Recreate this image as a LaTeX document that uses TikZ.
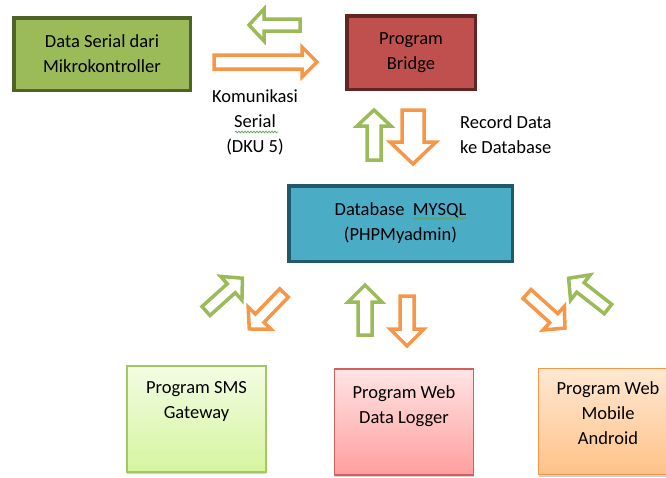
\documentclass[tikz,border=0pt]{standalone}
\usepackage{fontspec}
\setmainfont{Carlito}
\usetikzlibrary{shadows,decorations.pathmorphing}
\definecolor{cGreen}{HTML}{9BBB59}
\definecolor{cGreenD}{HTML}{4F6228}
\definecolor{cRed}{HTML}{C0504D}
\definecolor{cRedD}{HTML}{632523}
\definecolor{cBlue}{HTML}{4BACC6}
\definecolor{cBlueD}{HTML}{215968}
\definecolor{cOrange}{HTML}{F79646}
\definecolor{smsTop}{HTML}{F3FCE3}
\definecolor{smsBot}{HTML}{D5F59E}
\definecolor{smsLine}{HTML}{A5C665}
\definecolor{logTop}{HTML}{FFE4E4}
\definecolor{logBot}{HTML}{FF9E9E}
\definecolor{logLine}{HTML}{D0605E}
\definecolor{andTop}{HTML}{FFE8D2}
\definecolor{andBot}{HTML}{FFC288}
\definecolor{andLine}{HTML}{F79646}
\definecolor{spell}{HTML}{5EA35E}
\newcommand\blockarr[8]{%
  \draw[arrline, draw=#1, shift={(#2,#3)}, rotate=#4]
    (0,-#6) -- (#5-#8,-#6) -- (#5-#8,-#7) -- (#5,0) -- (#5-#8,#7) -- (#5-#8,#6) -- (0,#6) -- cycle;}
\begin{document}
\begin{tikzpicture}[x=1pt,y=-1pt,
  txt/.style={font=\fontsize{18.5}{25}\selectfont, text=black, align=center, inner sep=0pt},
  topbox/.style={txt, rectangle, line width=3.5pt, inner sep=0pt},
  lowbox/.style={rectangle, line width=1.3pt, inner sep=0pt, minimum width=139pt, minimum height=106pt,
    shading=axis, shading angle=0, drop shadow={shadow xshift=0pt, shadow yshift=-2pt, opacity=0.35, fill=gray}},
  arrline/.style={line width=3.5pt, fill=white, line join=miter},
  spellmark/.style={draw=spell, line width=0.7pt, decorate, decoration={snake, amplitude=0.9pt, segment length=3pt}}]
\useasboundingbox (0,0) rectangle (666,477);

% top boxes
\node[topbox, fill=cGreen, draw=cGreenD, minimum width=176.5pt, minimum height=72.5pt] (mcu) at (102,54) {Data Serial dari\\Mikrokontroller};
\node[topbox, fill=cRed, draw=cRedD, minimum width=128.5pt, minimum height=73.5pt] (bridge) at (411,52.5) {Program\\Bridge};
\node[topbox, fill=cBlue, draw=cBlueD, minimum width=223.5pt, minimum height=75.5pt] (db) at (400.5,223.5) {Database \ MYSQL\\(PHPMyadmin)};

% bottom boxes
\node[lowbox, draw=smsLine, top color=smsTop, bottom color=smsBot] (sms) at (196.5,419) {};
\node[lowbox, draw=logLine, top color=logTop, bottom color=logBot] (logger) at (404,422) {};
\node[lowbox, draw=andLine, top color=andTop, bottom color=andBot] (android) at (608,421.5) {};
\node[txt, anchor=north] (smsT) at ([yshift=-16pt]sms.north) {Program SMS\\Gateway};
\node[txt, anchor=north] (loggerT) at ([yshift=-17pt]logger.north) {Program Web\\Data Logger};
\node[txt, anchor=north] (androidT) at ([yshift=-14pt]android.north) {Program Web\\Mobile\\Android};

% labels
\node[txt] (kom) at (255,122.5) {Komunikasi\\Serial\\(DKU 5)};
\node[txt, anchor=west, align=left] (rec) at (460,134.5) {Record Data\\ke Database};

% spell-check underlines
\coordinate (s1a) at (235,132); \coordinate (s1b) at (278,132);
\draw[spellmark] (s1a) -- (s1b);
\coordinate (s2a) at (413,218.5); \coordinate (s2b) at (466,218.5);
\draw[spellmark] (s2a) -- (s2b);

% block arrows: colour, tail x, tail y, angle, length, shaft half, head half, head length
\blockarr{cGreen}{300}{25}{180}{51}{6}{16}{15}
\blockarr{cOrange}{214}{62}{0}{103}{7}{15}{15}
\blockarr{cGreen}{374}{160}{90}{50}{7}{17}{16}
\blockarr{cOrange}{413}{110}{270}{54}{11}{23}{22}
\blockarr{cGreen}{206}{311}{42}{49}{6}{16}{15}
\blockarr{cOrange}{284}{293}{226}{50}{6}{16}{15}
\blockarr{cGreen}{365}{335}{90}{50}{7}{17}{17}
\blockarr{cOrange}{407}{296}{270}{50}{7}{17}{17}
\blockarr{cOrange}{527}{294}{-42}{51}{6}{16}{15}
\blockarr{cGreen}{608}{309}{142}{50}{6}{16}{15}
\end{tikzpicture}
\end{document}
